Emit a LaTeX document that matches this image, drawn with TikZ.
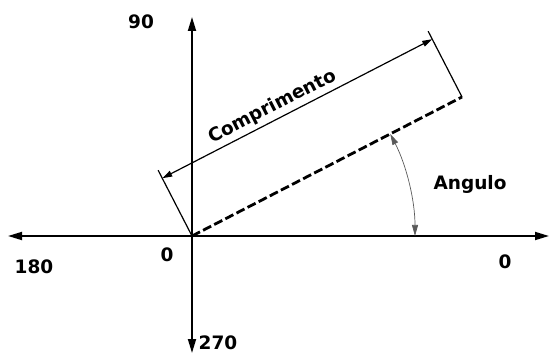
\documentclass[tikz,border=0pt]{standalone}
\usepackage{fontspec}
\setmainfont{DejaVu Sans}
\usepackage{tikz}
\usetikzlibrary{arrows.meta,positioning,calc}

\begin{document}
\begin{tikzpicture}[
  x=1pt, y=1pt,
  font=\fontsize{18.5}{21}\selectfont\bfseries,
  axis/.style={-{Triangle[length=14pt,width=8pt]}, line width=1.8pt},
  dimline/.style={{Triangle[length=10pt,width=6pt]}-{Triangle[length=10pt,width=6pt]}, line width=1.2pt},
  extline/.style={line width=1.2pt},
  vec/.style={dashed, dash pattern=on 9pt off 3.5pt, line width=2.8pt},
  anglearc/.style={{Triangle[length=11pt,width=6pt]}-{Triangle[length=11pt,width=6pt]}, line width=0.7pt, gray!70!black}
]
\useasboundingbox (0,0) rectangle (551,356);
% axes
\coordinate (o)  at (192,120);
\coordinate (xl) at (8,120);
\coordinate (xr) at (549,120);
\coordinate (yt) at (192,339);
\coordinate (yb) at (192,3);
\draw[axis] (o) -- (xl);
\draw[axis] (o) -- (xr);
\draw[axis] (o) -- (yt);
\draw[axis] (o) -- (yb);
% vector and its length
\coordinate (e)  at ($(o)+(27.24:303.7)$);
\coordinate (a)  at ($(o)+(117.24:74)$);
\coordinate (b)  at ($(e)+(117.24:74)$);
\coordinate (da) at ($(o)+(117.24:65)$);
\coordinate (db) at ($(e)+(117.24:65)$);
\draw[vec] (o) -- (e);
\draw[extline] (o) -- (a);
\draw[extline] (e) -- (b);
\draw[dimline] (da) -- node[above=0pt, sloped, pos=0.43] (len) {Comprimento} (db);
% angle
\coordinate (r0) at ($(o)+(0:223)$);
\draw[anglearc] (r0) arc[start angle=0, end angle=27.24, radius=223];
\node (ang) at (470,172) {Angulo};
% axis labels
\node (l90)  at (141,334) {90};
\node (l0o)  at (167,101) {0};
\node (l180) at (34,89)   {180};
\node (l0)   at (505,94)  {0};
\node (l270) at (218,13)  {270};
\end{tikzpicture}
\end{document}
